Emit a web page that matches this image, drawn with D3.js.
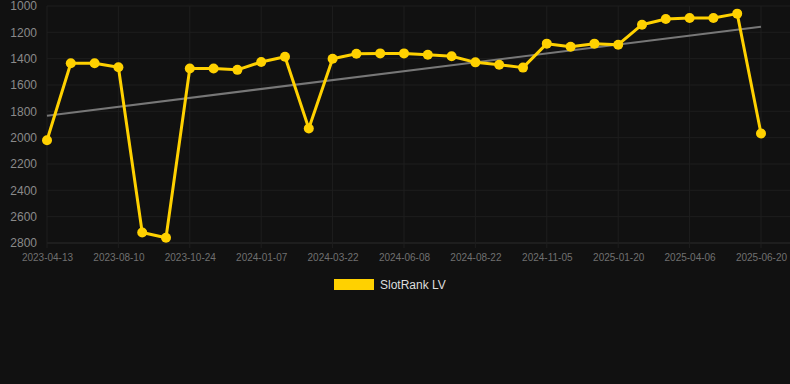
<!DOCTYPE html>
<html>
<head>
<meta charset="utf-8">
<script src="https://cdn.jsdelivr.net/npm/d3@7"></script>
<style>
  html, body { margin: 0; padding: 0; background: #111111; }
  svg { display: block; font-family: "Liberation Sans", Arial, sans-serif; }
</style>
</head>
<body>
<svg id="chart" width="790" height="384"></svg>
<script>
// dates for each rank reading (category axis, labels every third point)
const dates = [
  "2023-04-13", "2023-05-22", "2023-07-01", "2023-08-10", "2023-09-04", "2023-09-29",
  "2023-10-24", "2023-11-18", "2023-12-13", "2024-01-07", "2024-01-31", "2024-02-25",
  "2024-03-22", "2024-04-17", "2024-05-13", "2024-06-08", "2024-07-03", "2024-07-28",
  "2024-08-22", "2024-09-16", "2024-10-11", "2024-11-05", "2024-11-30", "2024-12-25",
  "2025-01-20", "2025-02-13", "2025-03-10", "2025-04-06", "2025-05-01", "2025-05-26",
  "2025-06-20"
];
const ranks = [
  2020, 1435, 1435, 1465, 2720, 2760, 1475, 1475, 1485, 1425, 1385,
  1930, 1400, 1362, 1360, 1360, 1370, 1382, 1428, 1446, 1468, 1286,
  1309, 1286, 1294, 1142, 1099, 1091, 1091, 1058, 1968
];
const trendValues = [1833, 1157];
const yTicks = [1000, 1200, 1400, 1600, 1800, 2000, 2200, 2400, 2600, 2800];
const seriesName = "SlotRank LV";

const svg = d3.select("#chart");
const margin = { left: 47, right: 29, top: 6, bottom: 141 };
const width = 790, height = 384;

const x = d3.scalePoint()
    .domain(dates)
    .range([margin.left, width - margin.right]);

const y = d3.scaleLinear()
    .domain([1000, 2800])
    .range([margin.top, height - margin.bottom]);

const labelDates = dates.filter((d, i) => i % 3 === 0);

// grid
svg.append("g")
    .selectAll("line")
    .data(yTicks)
    .enter()
    .append("line")
    .attr("x1", margin.left)
    .attr("x2", width)
    .attr("y1", d => y(d))
    .attr("y2", d => y(d))
    .attr("stroke", d => d === 2800 ? "#2c2c2c" : "#1e1e1e")
    .attr("stroke-width", 1);

svg.append("g")
    .selectAll("line")
    .data(labelDates)
    .enter()
    .append("line")
    .attr("x1", d => x(d))
    .attr("x2", d => x(d))
    .attr("y1", margin.top)
    .attr("y2", y(2800) + 5)
    .attr("stroke", "#1e1e1e")
    .attr("stroke-width", 1);

// y axis labels
const yAxis = svg.append("g")
    .attr("transform", `translate(${margin.left - 10}, 0)`)
    .call(d3.axisLeft(y).tickValues(yTicks).tickFormat(d3.format("d")).tickSize(0));
yAxis.select(".domain").remove();
yAxis.selectAll("text")
    .attr("x", 0)
    .attr("fill", "#8a8a8a")
    .style("font-size", "12px");

// x axis labels
const xAxis = svg.append("g")
    .attr("transform", `translate(0, ${y(2800)})`)
    .call(d3.axisBottom(x).tickValues(labelDates).tickSize(0));
xAxis.select(".domain").remove();
xAxis.selectAll("text")
    .attr("y", 11)
    .attr("fill", "#707070")
    .style("font-size", "10px");

// trend line
svg.append("line")
    .attr("x1", x(dates[0]))
    .attr("x2", x(dates[dates.length - 1]))
    .attr("y1", y(trendValues[0]))
    .attr("y2", y(trendValues[1]))
    .attr("stroke", "#777777")
    .attr("stroke-width", 2);

// series line
const line = d3.line()
    .x((d, i) => x(dates[i]))
    .y(d => y(d));

svg.append("path")
    .datum(ranks)
    .attr("d", line)
    .attr("fill", "none")
    .attr("stroke", "#ffd100")
    .attr("stroke-width", 3)
    .attr("stroke-linejoin", "round");

svg.append("g")
    .selectAll("circle")
    .data(ranks)
    .enter()
    .append("circle")
    .attr("cx", (d, i) => x(dates[i]))
    .attr("cy", d => y(d))
    .attr("r", 5)
    .attr("fill", "#ffd100");

// legend
const legend = svg.append("g").attr("transform", "translate(334, 279)");
legend.append("rect")
    .attr("width", 40)
    .attr("height", 11)
    .attr("fill", "#ffd100");
legend.append("text")
    .attr("x", 46)
    .attr("y", 10)
    .attr("fill", "#dddddd")
    .style("font-size", "12px")
    .text(seriesName);
</script>
</body>
</html>
